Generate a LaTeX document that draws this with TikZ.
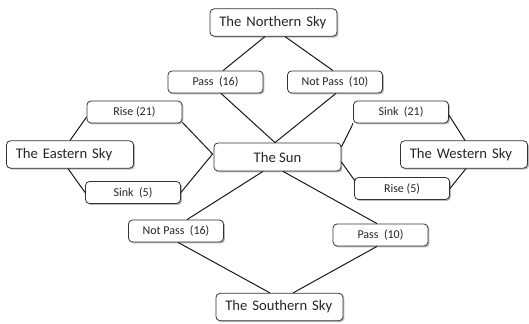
\documentclass[tikz,border=0pt]{standalone}
\usepackage{fontspec}
\setmainfont{Carlito}
\usetikzlibrary{calc,shadows}
\begin{document}
\begin{tikzpicture}[x=0.75pt,y=-0.75pt,
  boxbase/.style={draw=black!80, line width=0.6pt, rounded corners=3pt, fill=white,
    drop shadow={shadow xshift=1.1pt, shadow yshift=-1.1pt, fill=black!45, opacity=0.6},
    text=black!85},
  small/.style={boxbase, minimum width=71.25pt, minimum height=16.5pt, inner sep=0pt,
    font=\fontsize{9}{10}\selectfont},
  big/.style={boxbase, inner xsep=7pt, inner ysep=0pt, text width=81.25pt, align=left,
    minimum height=20.5pt, font=\fontsize{11}{12}\selectfont},
  sunbox/.style={boxbase, inner sep=0pt, minimum width=95.25pt, minimum height=21pt,
    font=\fontsize{11}{12}\selectfont},
  conn/.style={draw=black!90, line width=0.75pt}
]
\useasboundingbox (0,0) rectangle (529,324);

\node[big] (north) at (273.5,22.5) {The Northern Sky};
\node[small] (pass16) at (215.5,82) {Pass\ \ (16)};
\node[small] (np10) at (335,82) {Not Pass\ \ (10)};
\node[small] (rise21) at (134.5,112) {Rise (21)};
\node[small] (sink21) at (401,112) {Sink\ \ (21)};
\node[big] (east) at (70,154.5) {The Eastern Sky};
\node[sunbox] (sun) at (277.5,157) {The Sun};
\node[big] (west) at (464,154.5) {The Western Sky};
\node[small] (sink5) at (133,192.5) {Sink\ \ (5)};
\node[small] (rise5) at (402,188.5) {Rise (5)};
\node[small] (np16) at (176,231) {Not Pass\ \ (16)};
\node[small] (pass10) at (380.5,235) {Pass\ \ (10)};
\node[big] (south) at (279.5,307) {The Southern Sky};

\draw[conn] ($(north.south)+(-8.5,0)$) -- ($(pass16.north)+(7.5,0)$);
\draw[conn] ($(north.south)+(11.5,0)$) -- ($(np10.north)+(-2,0)$);
\draw[conn] ($(pass16.south)+(5.5,0)$) -- ($(sun.north)+(-2.5,0)$);
\draw[conn] ($(np10.south)+(1,0)$) -- ($(sun.north)+(-2.5,0)$);
\draw[conn] ($(rise21.west)+(0,5)$) -- (east.north);
\draw[conn] ($(rise21.south east)+(0,-1)$) -- ($(sun.west)+(-1,-3)$);
\draw[conn] ($(east.south)+(-2,0)$) -- (sink5.west);
\draw[conn] (sink5.east) -- ($(sun.west)+(-1,-3)$);
\draw[conn] (sink21.south west) -- ($(sun.east)+(0,-10)$);
\draw[conn] ($(sink21.east)+(0,3)$) -- ($(west.north)+(1,0)$);
\draw[conn] ($(sun.east)+(0,5)$) -- ($(rise5.north west)+(1,4)$);
\draw[conn] ($(west.south)+(2,0)$) -- (rise5.east);
\draw[conn] ($(sun.south)+(-14.5,0)$) -- ($(np16.north)+(11,0)$);
\draw[conn] ($(sun.south)+(5.5,0)$) -- ($(pass10.north)+(-3.5,0)$);
\draw[conn] ($(np16.south)+(2,0)$) -- ($(south.north)+(-9.5,0)$);
\draw[conn] ($(pass10.south)+(-3.5,0)$) -- ($(south.north)+(13.5,0)$);
\end{tikzpicture}
\end{document}
